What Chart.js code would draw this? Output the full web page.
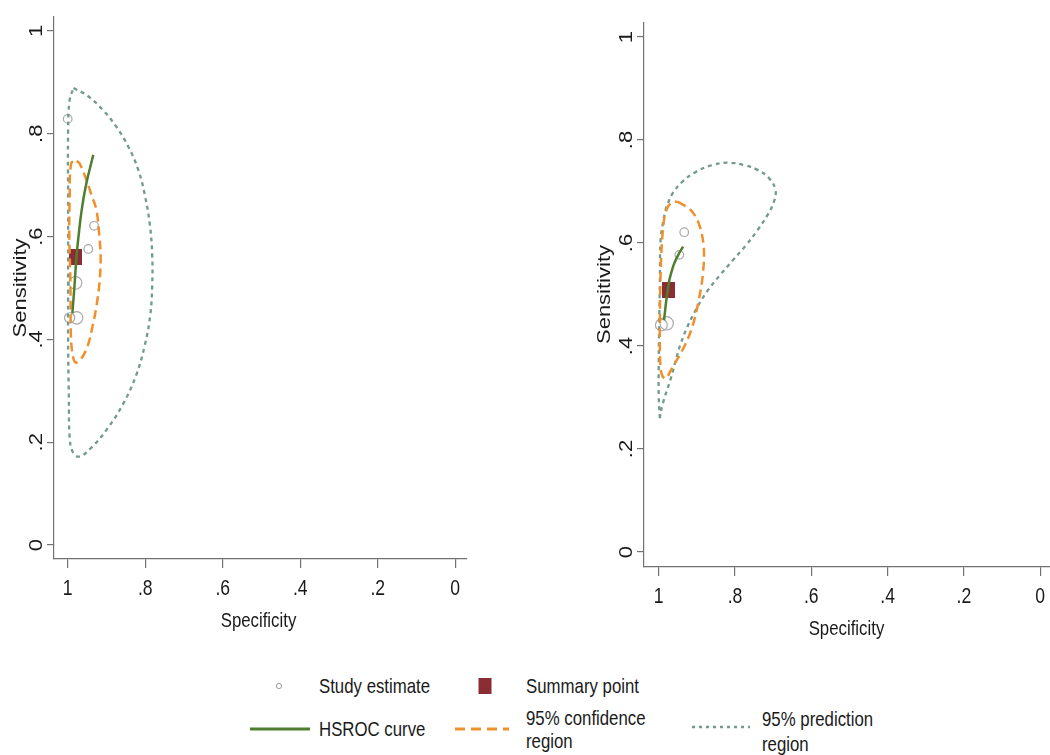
<!DOCTYPE html>
<html>
<head>
<meta charset="utf-8">
<script src="https://cdn.jsdelivr.net/npm/chart.js@4.4.1/dist/chart.umd.min.js"></script>
<style>
  html, body { margin: 0; padding: 0; background: #fff; }
  body { width: 1050px; height: 755px; overflow: hidden; position: relative; font-family: "Liberation Sans", Arial, sans-serif; }
  canvas { position: absolute; top: 0; }
  #left { left: 0; }
  #right { left: 560px; }
  .lg { position: absolute; font-size: 21px; line-height: 24px; color: #1a1a1a; transform: scaleX(0.8); transform-origin: 0 0; white-space: nowrap; }
  #sym { position: absolute; left: 0; top: 660px; }
</style>
</head>
<body>
<canvas id="left" width="476" height="645"></canvas>
<canvas id="right" width="501" height="645"></canvas>

<svg id="sym" width="1050" height="95">
  <circle cx="279" cy="26" r="2.6" fill="none" stroke="#9a9a9a" stroke-width="1"></circle>
  <rect x="478.5" y="18" width="13" height="16" fill="#8b2d35"></rect>
  <line x1="250" y1="69" x2="310" y2="69" stroke="#4f7f2e" stroke-width="3"></line>
  <line x1="455" y1="69" x2="509" y2="69" stroke="#f0902c" stroke-width="3" stroke-dasharray="10 6"></line>
  <line x1="692" y1="67" x2="750" y2="67" stroke="#729a8f" stroke-width="2.5" stroke-dasharray="3 4"></line>
</svg>
<div class="lg" style="left:319px; top:674px;">Study estimate</div>
<div class="lg" style="left:526px; top:674px;">Summary point</div>
<div class="lg" style="left:319px; top:717px;">HSROC curve</div>
<div class="lg" style="left:526px; top:706px; line-height:23px;">95% confidence<br>region</div>
<div class="lg" style="left:762px; top:706px; line-height:25px;">95% prediction<br>region</div>

<script>
// axis ticks
var tickValues = [0, 0.2, 0.4, 0.6, 0.8, 1];
var tickLabels = ['0', '.2', '.4', '.6', '.8', '1'];

// left panel
var leftStudySpec = [1.000, 0.932, 0.947, 0.980, 0.995, 0.977];
var leftStudySens = [0.829, 0.621, 0.576, 0.510, 0.442, 0.442];
var leftStudyWeight = [1, 1, 1, 2.2, 1.4, 2.1];
var leftSummarySpec = [0.981];
var leftSummarySens = [0.561];
var leftHsrocSpec = [0.988, 0.985, 0.982, 0.979, 0.975, 0.970, 0.965, 0.958, 0.950, 0.942, 0.934];
var leftHsrocSens = [0.451, 0.480, 0.510, 0.545, 0.580, 0.615, 0.646, 0.680, 0.710, 0.735, 0.759];
var leftConfSpec = [0.977, 0.970, 0.955, 0.940, 0.926, 0.919, 0.915, 0.918, 0.926, 0.936, 0.949, 0.965, 0.980, 0.988, 0.992, 0.993, 0.996, 0.995, 0.991, 0.977];
var leftConfSens = [0.747, 0.743, 0.717, 0.684, 0.652, 0.606, 0.560, 0.510, 0.464, 0.425, 0.386, 0.363, 0.355, 0.373, 0.412, 0.509, 0.607, 0.671, 0.743, 0.747];
var leftPredSpec = [0.985, 0.949, 0.909, 0.874, 0.843, 0.818, 0.801, 0.788, 0.782, 0.782, 0.787, 0.801, 0.823, 0.856, 0.896, 0.937, 0.970, 0.987, 0.995, 0.997, 0.999, 0.999, 0.999, 0.999, 0.995, 0.985];
var leftPredSens = [0.889, 0.874, 0.846, 0.813, 0.774, 0.730, 0.681, 0.623, 0.564, 0.506, 0.447, 0.389, 0.331, 0.276, 0.228, 0.191, 0.172, 0.181, 0.210, 0.282, 0.399, 0.510, 0.671, 0.807, 0.866, 0.889];

// right panel
var rightStudySpec = [0.933, 0.946, 0.993, 0.979];
var rightStudySens = [0.621, 0.577, 0.441, 0.444];
var rightStudyWeight = [1, 1, 1.9, 2.4];
var rightSummarySpec = [0.974];
var rightSummarySens = [0.509];
var rightHsrocSpec = [0.986, 0.983, 0.980, 0.976, 0.972, 0.966, 0.959, 0.948, 0.936];
var rightHsrocSens = [0.450, 0.470, 0.489, 0.509, 0.528, 0.545, 0.561, 0.578, 0.593];
var rightConfSpec = [0.950, 0.916, 0.895, 0.882, 0.884, 0.895, 0.912, 0.933, 0.963, 0.982, 0.993, 0.997, 0.997, 0.995, 0.989, 0.980, 0.965, 0.950];
var rightConfSens = [0.680, 0.664, 0.638, 0.593, 0.541, 0.489, 0.437, 0.399, 0.360, 0.337, 0.347, 0.399, 0.444, 0.541, 0.625, 0.664, 0.679, 0.680];
var rightPredSpec = [0.997, 1.000, 1.000, 0.999, 0.997, 0.995, 0.989, 0.982, 0.976, 0.963, 0.938, 0.903, 0.861, 0.818, 0.775, 0.741, 0.711, 0.694, 0.698, 0.715, 0.741, 0.771, 0.805, 0.839, 0.874, 0.903, 0.925, 0.942, 0.955, 0.967, 0.989, 0.997];
var rightPredSens = [0.260, 0.305, 0.360, 0.425, 0.522, 0.606, 0.638, 0.664, 0.677, 0.697, 0.719, 0.738, 0.751, 0.756, 0.751, 0.742, 0.726, 0.703, 0.680, 0.654, 0.625, 0.596, 0.567, 0.538, 0.505, 0.470, 0.437, 0.405, 0.373, 0.340, 0.289, 0.260];

var axisColor = '#727272';
var textColor = '#1a1a1a';
var textFont = '"Liberation Sans", Arial, sans-serif';

function pts(xs, ys) {
    return xs.map(function (x, i) { return {x: x, y: ys[i]}; });
}

// filled box used as the summary marker
var summaryMark = document.createElement('canvas');
summaryMark.width = 13;
summaryMark.height = 16;
var sctx = summaryMark.getContext('2d');
sctx.fillStyle = '#8b2d35';
sctx.fillRect(0, 0, 13, 16);

var axisText = {
    id: 'axisText',
    afterDraw: function (chart, args, o) {
        var ctx = chart.ctx, xs = chart.scales.x, ys = chart.scales.y, area = chart.chartArea;
        ctx.save();
        ctx.fillStyle = textColor;
        ctx.textAlign = 'center';
        ctx.textBaseline = 'alphabetic';
        ctx.font = '22px ' + textFont;
        tickValues.forEach(function (v, i) {
            var px = xs.getPixelForValue(v);
            ctx.save();
            ctx.translate(px, area.bottom + 36);
            ctx.scale(0.8, 1);
            ctx.fillText(tickLabels[i], 0, 0);
            ctx.restore();

            var py = ys.getPixelForValue(v);
            ctx.save();
            ctx.translate(area.left - 12, py);
            ctx.scale(0.8, 1);
            ctx.rotate(-Math.PI / 2);
            ctx.fillText(tickLabels[i], 0, 0);
            ctx.restore();
        });

        ctx.font = '21px ' + textFont;
        var midX = (xs.getPixelForValue(0) + xs.getPixelForValue(1)) / 2 - 3;
        ctx.save();
        ctx.translate(midX, area.bottom + 68);
        ctx.scale(0.8, 1);
        ctx.fillText('Specificity', 0, 0);
        ctx.restore();

        var midY = (ys.getPixelForValue(0) + ys.getPixelForValue(1)) / 2;
        ctx.font = '22px ' + textFont;
        ctx.save();
        ctx.translate(area.left - o.titleGap, midY);
        ctx.scale(0.8, 1);
        ctx.rotate(-Math.PI / 2);
        ctx.fillText('Sensitivity', 0, 0);
        ctx.restore();
        ctx.restore();
    }
};

function makeChart(id, d, box) {
    return new Chart(document.getElementById(id), {
        type: 'scatter',
        data: {
            datasets: [
                {
                    data: pts(d.sumSpec, d.sumSens),
                    pointStyle: summaryMark,
                    pointRadius: 8,
                    order: 4
                },
                {
                    data: pts(d.studySpec, d.studySens),
                    pointStyle: 'circle',
                    pointRadius: d.studyWeight.map(function (w) { return 4.3 * Math.sqrt(w); }),
                    borderColor: '#a8a8a8',
                    backgroundColor: 'rgba(0,0,0,0)',
                    borderWidth: 1.2,
                    order: 5
                },
                {
                    data: pts(d.hsrocSpec, d.hsrocSens),
                    showLine: true,
                    borderColor: '#4f7f2e',
                    borderWidth: 2.5,
                    pointRadius: 0,
                    tension: 0.4,
                    order: 1
                },
                {
                    data: pts(d.confSpec, d.confSens),
                    showLine: true,
                    borderColor: '#f0902c',
                    borderWidth: 2.5,
                    borderDash: [9, 5],
                    pointRadius: 0,
                    tension: 0.35,
                    order: 2
                },
                {
                    data: pts(d.predSpec, d.predSens),
                    showLine: true,
                    borderColor: '#729a8f',
                    borderWidth: 2.3,
                    borderDash: [4, 4],
                    pointRadius: 0,
                    tension: 0.4,
                    order: 3
                }
            ]
        },
        options: {
            responsive: false,
            animation: false,
            events: [],
            layout: { padding: { top: box.top, left: 0, right: 0, bottom: 0 } },
            plugins: {
                legend: { display: false },
                tooltip: { enabled: false },
                axisText: { titleGap: box.titleGap }
            },
            scales: {
                x: {
                    type: 'linear',
                    reverse: true,
                    min: box.xMin,
                    max: box.xMax,
                    afterBuildTicks: function (s) { s.ticks = tickValues.map(function (v) { return {value: v}; }); },
                    afterFit: function (s) { s.height = box.xH; },
                    ticks: { display: false },
                    grid: { drawOnChartArea: false, tickLength: 9, color: axisColor, lineWidth: 1.2 },
                    border: { color: axisColor, width: 1.2 }
                },
                y: {
                    type: 'linear',
                    min: box.yMin,
                    max: box.yMax,
                    afterBuildTicks: function (s) { s.ticks = tickValues.map(function (v) { return {value: v}; }); },
                    afterFit: function (s) { s.width = box.yW; },
                    ticks: { display: false },
                    grid: { drawOnChartArea: false, tickLength: 7, color: axisColor, lineWidth: 1.2 },
                    border: { color: axisColor, width: 1.2 }
                }
            }
        },
        plugins: [axisText]
    });
}

makeChart('left', {
    studySpec: leftStudySpec, studySens: leftStudySens, studyWeight: leftStudyWeight,
    sumSpec: leftSummarySpec, sumSens: leftSummarySens,
    hsrocSpec: leftHsrocSpec, hsrocSens: leftHsrocSens,
    confSpec: leftConfSpec, confSens: leftConfSens,
    predSpec: leftPredSpec, predSens: leftPredSens
}, { top: 17, xH: 86, yW: 54, xMin: -0.0303, xMax: 1.0354, yMin: -0.0272, yMax: 1.0272, titleGap: 28 });

makeChart('right', {
    studySpec: rightStudySpec, studySens: rightStudySens, studyWeight: rightStudyWeight,
    sumSpec: rightSummarySpec, sumSens: rightSummarySens,
    hsrocSpec: rightHsrocSpec, hsrocSens: rightHsrocSens,
    confSpec: rightConfSpec, confSens: rightConfSens,
    predSpec: rightPredSpec, predSens: rightPredSens
}, { top: 23, xH: 78, yW: 84, xMin: -0.0308, xMax: 1.0385, yMin: -0.0291, yMax: 1.0272, titleGap: 34 });
</script>
</body>
</html>
